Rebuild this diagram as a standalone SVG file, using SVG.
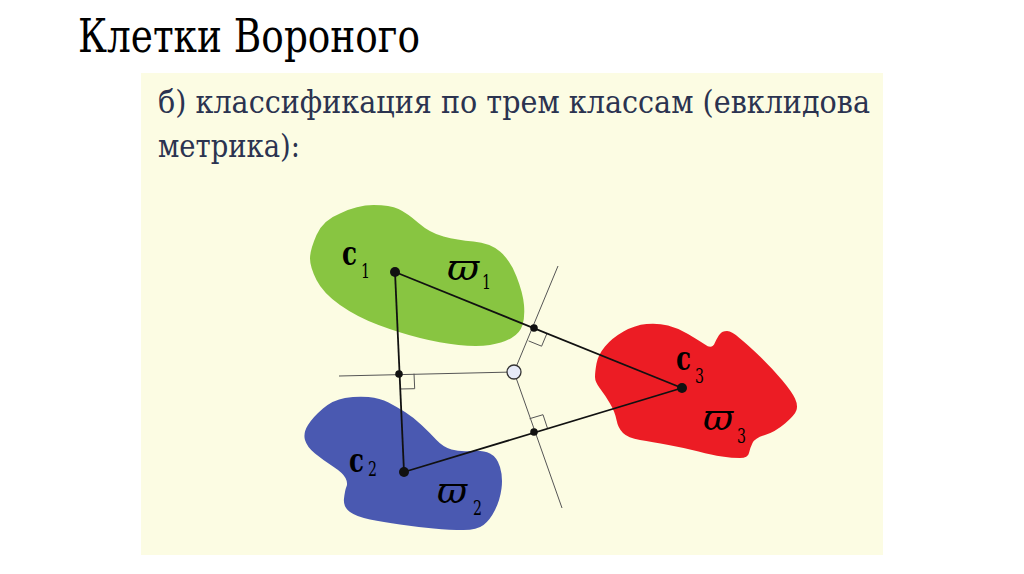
<svg xmlns="http://www.w3.org/2000/svg" width="1024" height="574" viewBox="0 0 1024 574">
<style>
text{font-family:'DejaVu Serif',serif}
.title{font-size:46px;fill:#000}
.sub{font-size:32px;fill:#2b3350}
.c{font-size:34px;font-weight:bold;fill:#000}
.w{font-size:37px;font-style:italic;fill:#000}
.s{font-size:21px;fill:#000}
.thick{stroke:#111;stroke-width:1.8;fill:none}
.thin{stroke:#555;stroke-width:1;fill:none}
.dot{fill:#111}
</style>
<rect width="1024" height="574" fill="#ffffff"/>
<rect x="141" y="73" width="742" height="482" fill="#fcfce3"/>
<text class="title" x="78" y="52" textLength="342" lengthAdjust="spacingAndGlyphs">Клетки Вороного</text>
<text class="sub" x="158" y="113" textLength="712" lengthAdjust="spacingAndGlyphs">б) классификация по трем классам (евклидова</text>
<text class="sub" x="158" y="157" textLength="142" lengthAdjust="spacingAndGlyphs">метрика):</text>
<g id="region1">
<path fill="#88c541" d="M310,258.5 Q310,250 316.5,235 Q323,220 340,213.5 Q357,205 373.5,205 Q390,205 398.5,209 Q407,213 418.5,223 Q430,233 443.5,236.5 Q457,240 473.5,241.5 Q490,243 500,251.5 Q510,260 516.5,276.5 Q523,293 524,305 Q525,317 522.5,325 Q520,333 511.5,338 Q503,343 490,345 Q477,347 458.5,345 Q440,343 420,338 Q400,333 378.5,325 Q357,317 340,305 Q323,293 316.5,280 Q310,267 310,258.5 Z"/>
</g>
<g id="region2">
<path fill="#4a59b1" d="M305,440 Q303,433 308,425 Q313,417 323,408.5 Q333,400 345,398 Q357,396 368.5,397 Q380,398 388.5,402.5 Q397,407 405,412 Q413,417 421.5,425 Q430,433 436.5,440 Q443,447 451.5,449.5 Q460,452 471.5,451 Q483,450 490,453.5 Q497,457 500,467 Q503,477 501.5,488.5 Q500,500 495,510 Q490,520 483.5,525 Q477,530 463.5,530 Q450,530 433.5,528.5 Q417,527 400,524.5 Q383,522 370,519.5 Q357,517 350,512 Q343,507 344,498.5 Q345,490 346.5,486.5 Q348,483 345.5,478 Q343,473 333,466.5 Q323,460 315,453.5 Q307,447 305,440 Z"/>
</g>
<g id="region3">
<path fill="#ec1c24" d="M595,377 Q595,372 596.5,363.5 Q598,355 605,346.5 Q612,338 623.5,331.5 Q635,325 646.5,324 Q658,323 668,325.5 Q678,328 688,334 Q698,340 705,344.5 Q712,350 715,342.5 Q718,336 720,334 Q722,331 727,331 Q732,331 740,338.5 Q748,345 760,356.5 Q772,368 782,380 Q792,392 795,398.5 Q798,405 796.5,410 Q795,415 785,423.5 Q775,432 765,435 Q755,438 752.5,443 Q750,448 749,453 Q748,458 740,458 Q732,458 722,456.5 Q712,455 698.5,451.5 Q685,448 668.5,445 Q652,442 640,440 Q628,438 623,433 Q618,428 616.5,420 Q615,412 610,403.5 Q605,395 600,388.5 Q595,382 595,377 Z"/>
</g>
<g id="connectors">
<line class="thin" x1="339" y1="376" x2="514" y2="372"/>
<line class="thin" x1="514" y1="372" x2="558" y2="266"/>
<line class="thin" x1="514" y1="372" x2="562" y2="508"/>
<polyline class="thin" points="528.6,340.9 541.6,346.2 547,333.3"/>
<polyline class="thin" points="529.6,418.7 543,414.7 547.4,428"/>
<polyline class="thin" points="414,373.7 414.7,388.7 399.7,389"/>
<line class="thick" x1="395" y1="272" x2="682" y2="388"/>
<line class="thick" x1="395" y1="272" x2="404" y2="472"/>
<line class="thick" x1="404" y1="472" x2="682" y2="388"/>
<circle class="dot" cx="534" cy="328" r="3.8"/>
<circle class="dot" cx="534" cy="432" r="3.8"/>
<circle class="dot" cx="399" cy="374" r="3.8"/>
</g>
<g id="center">
<circle cx="514" cy="372" r="7" fill="#e6eaf8" stroke="#333" stroke-width="1.3"/>
</g>
<g id="c1">
<circle class="dot" cx="395" cy="272" r="5"/>
<text class="c" x="342" y="265" textLength="15" lengthAdjust="spacingAndGlyphs">c</text><text class="s" x="361" y="278" textLength="9" lengthAdjust="spacingAndGlyphs">1</text>
<text class="w" x="447" y="280" textLength="32" lengthAdjust="spacingAndGlyphs">ϖ</text><text class="s" x="482" y="289" textLength="9" lengthAdjust="spacingAndGlyphs">1</text>
</g>
<g id="c2">
<circle class="dot" cx="404" cy="472" r="5"/>
<text class="c" x="349" y="472" textLength="15" lengthAdjust="spacingAndGlyphs">c</text><text class="s" x="368" y="476" textLength="9" lengthAdjust="spacingAndGlyphs">2</text>
<text class="w" x="437" y="503" textLength="30" lengthAdjust="spacingAndGlyphs">ϖ</text><text class="s" x="473" y="515" textLength="9" lengthAdjust="spacingAndGlyphs">2</text>
</g>
<g id="c3">
<circle class="dot" cx="682" cy="388" r="5"/>
<text class="c" x="676" y="370" textLength="15" lengthAdjust="spacingAndGlyphs">c</text><text class="s" x="695" y="383" textLength="9" lengthAdjust="spacingAndGlyphs">3</text>
<text class="w" x="703" y="430" textLength="30" lengthAdjust="spacingAndGlyphs">ϖ</text><text class="s" x="737" y="443" textLength="9" lengthAdjust="spacingAndGlyphs">3</text>
</g>
</svg>
